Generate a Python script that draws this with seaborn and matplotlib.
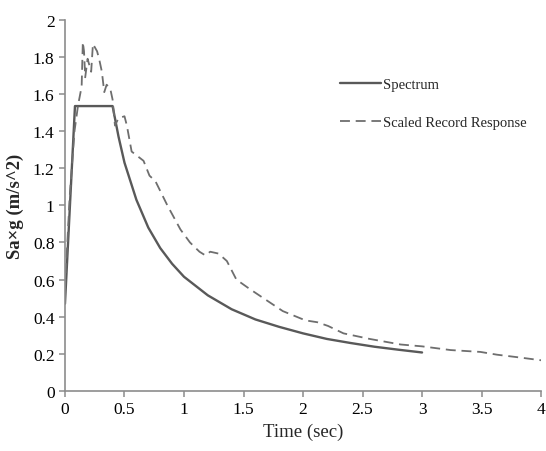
import matplotlib
matplotlib.use("Agg")
import matplotlib.pyplot as plt
import seaborn as sns
import pandas as pd

# spectrum (design) values
spec_t = [0, 0.084, 0.40, 0.45, 0.5, 0.6, 0.7, 0.8, 0.9, 1.0, 1.2, 1.4, 1.6,
          1.8, 2.0, 2.2, 2.4, 2.6, 2.8, 3.0]
spec_sa = [0.47, 1.535, 1.535, 1.37, 1.23, 1.03, 0.88, 0.77, 0.685, 0.615,
           0.515, 0.44, 0.385, 0.345, 0.31, 0.28, 0.258, 0.238, 0.222, 0.207]

# scaled record response
rec_t = [0, 0.04, 0.08, 0.11, 0.14, 0.15, 0.16, 0.17, 0.19, 0.22, 0.235, 0.27,
         0.29, 0.31, 0.33, 0.35, 0.38, 0.40, 0.42, 0.45, 0.5, 0.52, 0.56, 0.6,
         0.66, 0.71, 0.76, 0.86, 0.97, 1.05, 1.13, 1.18, 1.22, 1.29, 1.36, 1.44,
         1.55, 1.83, 2.02, 2.12, 2.21, 2.34, 2.56, 2.82, 3.0, 3.24, 3.49, 3.63,
         3.82, 4.0]
rec_sa = [0.55, 1.05, 1.40, 1.54, 1.64, 1.88, 1.83, 1.69, 1.79, 1.72, 1.87, 1.83,
          1.78, 1.72, 1.61, 1.65, 1.63, 1.57, 1.43, 1.47, 1.48, 1.43, 1.29, 1.27,
          1.24, 1.16, 1.13, 1.0, 0.87, 0.80, 0.75, 0.73, 0.75, 0.74, 0.70, 0.60,
          0.55, 0.43, 0.38, 0.37, 0.35, 0.31, 0.28, 0.25, 0.24, 0.22, 0.21, 0.195,
          0.18, 0.165]

dfSpec = pd.DataFrame({"T": spec_t, "Sa": spec_sa})
dfRec = pd.DataFrame({"T": rec_t, "Sa": rec_sa})

sns.set_style("ticks")
plt.rcParams['font.family'] = ['Liberation Serif', 'DejaVu Serif']

fig = plt.figure(figsize=(5.46, 4.52), dpi=100)
ax = fig.add_axes([0.119, 0.133, 0.872, 0.821])

sns.lineplot(data=dfSpec, x="T", y="Sa", ax=ax, color="#595959", lw=1.7,
             label="Spectrum", sort=False)
sns.lineplot(data=dfRec, x="T", y="Sa", ax=ax, color="#6e6e6e", lw=1.3,
             label="Scaled Record Response", sort=False)
ax.lines[1].set_dashes((5.5, 3.2))

ax.set_xlim(0, 4)
ax.set_ylim(0, 2)
ax.set_xticks([0, 0.5, 1, 1.5, 2, 2.5, 3, 3.5, 4])
ax.set_xticklabels(["0", "0.5", "1", "1.5", "2", "2.5", "3", "3.5", "4"])
ax.set_yticks([0, 0.2, 0.4, 0.6, 0.8, 1, 1.2, 1.4, 1.6, 1.8, 2])
ax.set_yticklabels(["0", "0.2", "0.4", "0.6", "0.8", "1", "1.2", "1.4", "1.6", "1.8", "2"])

for side in ["top", "right"]:
    ax.spines[side].set_visible(False)
for side in ["left", "bottom"]:
    ax.spines[side].set_color("#8c8c8c")
    ax.spines[side].set_linewidth(1.2)
ax.tick_params(axis="both", colors="#8c8c8c", labelcolor="black",
               length=4, width=1.1, labelsize=12.5)

ax.set_xlabel("Time (sec)", fontsize=13.5)
ax.set_ylabel("Sa\u00d7g (m/s^2)", fontsize=13.5, fontweight="bold", labelpad=6)

leg = ax.legend(loc="upper left", bbox_to_anchor=(0.55, 0.88), frameon=False,
                fontsize=10.5, labelspacing=1.75, handlelength=2.8, handletextpad=0.15)
leg.get_lines()[1].set_dashes((5.5, 3.2))

fig.savefig("out.png", dpi=100)
